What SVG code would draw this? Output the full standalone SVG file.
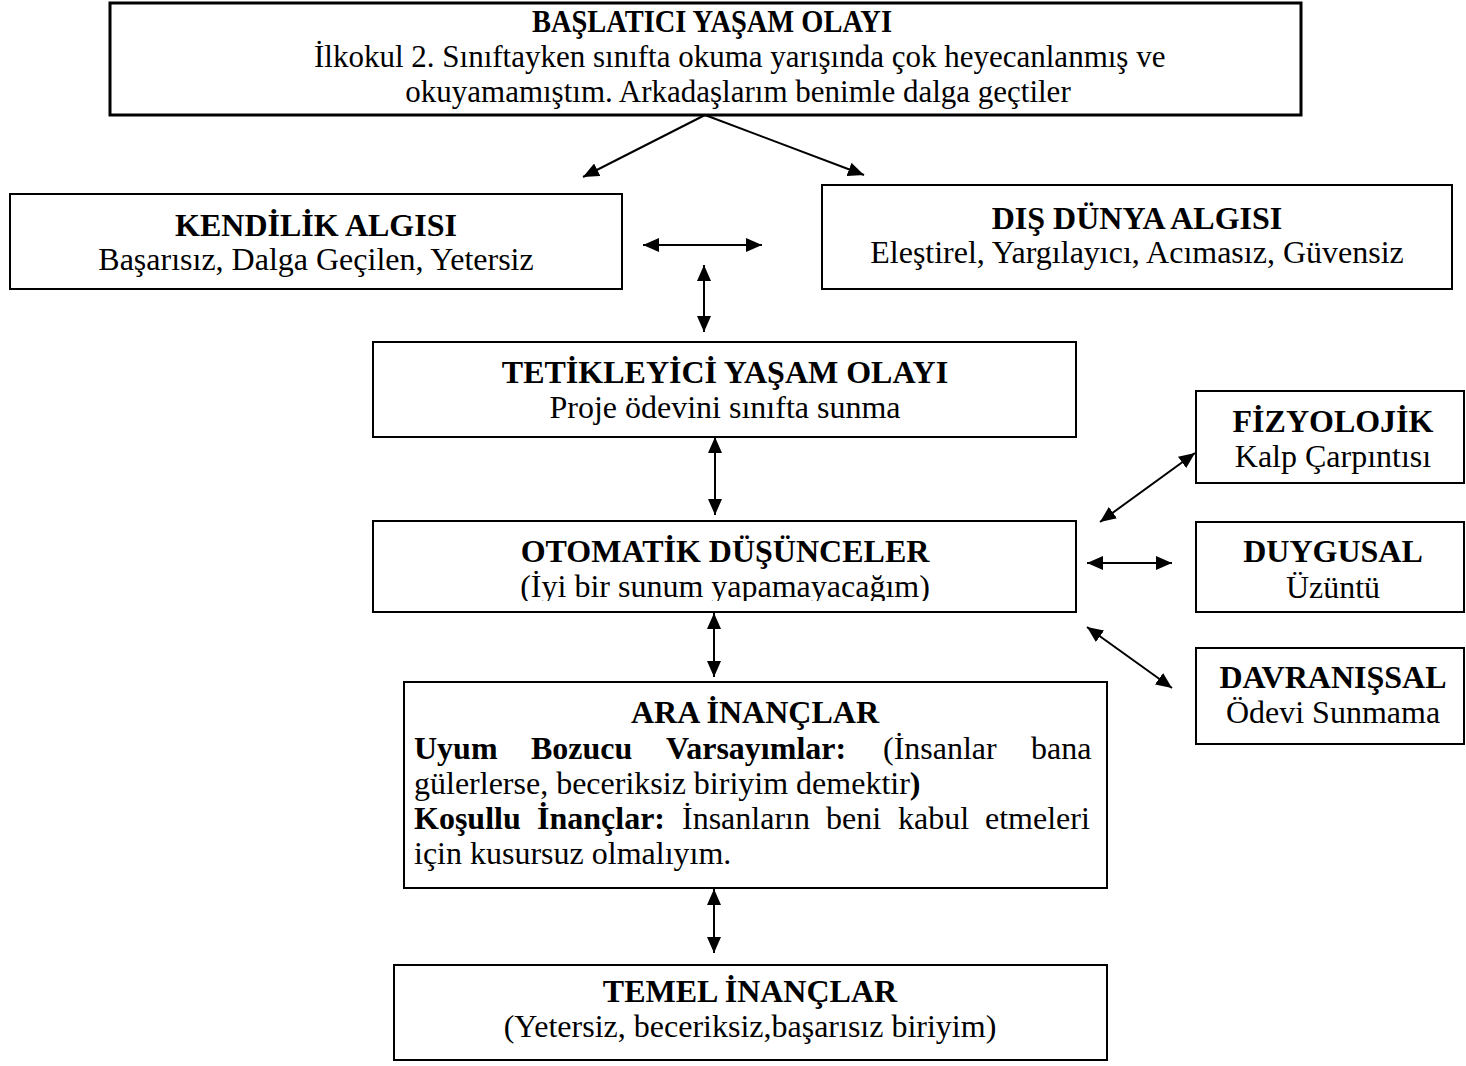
<svg xmlns="http://www.w3.org/2000/svg" width="1466" height="1066" viewBox="0 0 1466 1066">
  <defs>
    <style>
      .box { fill: #ffffff; stroke: #000000; stroke-width: 2; }
      .box-thick { fill: #ffffff; stroke: #000000; stroke-width: 3; }
      text { font-family: "Liberation Serif", "Times New Roman", serif; font-size: 32px; fill: #000000; }
      .c { text-anchor: middle; }
      .b { font-weight: bold; }
      .narrow { font-size: 31px; }
      .link { fill: none; stroke: #000000; stroke-width: 2; }
    </style>
    <marker id="head" viewBox="0 0 16 14" refX="16" refY="7" markerWidth="16" markerHeight="14" markerUnits="userSpaceOnUse" orient="auto-start-reverse">
      <path d="M0,0 L16,7 L0,14 Z" fill="#000000"/>
    </marker>
    <clipPath id="clip-otomatik">
      <rect x="373" y="521" width="703" height="80"/>
    </clipPath>
  </defs>

  <!-- connectors -->
  <g id="connectors">
    <line class="link" x1="705" y1="115" x2="583" y2="177" marker-end="url(#head)"/>
    <line class="link" x1="705" y1="115" x2="864" y2="175" marker-end="url(#head)"/>
    <line class="link" x1="643" y1="245" x2="762" y2="245" marker-start="url(#head)" marker-end="url(#head)"/>
    <line class="link" x1="704" y1="265" x2="704" y2="332" marker-start="url(#head)" marker-end="url(#head)"/>
    <line class="link" x1="715" y1="437" x2="715" y2="515" marker-start="url(#head)" marker-end="url(#head)"/>
    <line class="link" x1="1100" y1="522" x2="1195" y2="453" marker-start="url(#head)" marker-end="url(#head)"/>
    <line class="link" x1="1087" y1="563" x2="1172" y2="563" marker-start="url(#head)" marker-end="url(#head)"/>
    <line class="link" x1="1087" y1="627" x2="1172" y2="688" marker-start="url(#head)" marker-end="url(#head)"/>
    <line class="link" x1="714" y1="613" x2="714" y2="677" marker-start="url(#head)" marker-end="url(#head)"/>
    <line class="link" x1="714" y1="889" x2="714" y2="953" marker-start="url(#head)" marker-end="url(#head)"/>
  </g>

  <!-- initiating life event -->
  <g id="baslatici">
    <rect class="box-thick" x="110" y="3" width="1191" height="112"/>
    <text class="c b narrow" x="712" y="32" textLength="360" lengthAdjust="spacingAndGlyphs">BAŞLATICI YAŞAM OLAYI</text>
    <text class="narrow" x="314" y="67">İlkokul 2. Sınıftayken sınıfta okuma yarışında çok heyecanlanmış ve</text>
    <text class="c narrow" x="738" y="102">okuyamamıştım. Arkadaşlarım benimle dalga geçtiler</text>
  </g>

  <!-- self perception -->
  <g id="kendilik">
    <rect class="box" x="10" y="194" width="612" height="95"/>
    <text class="c b" x="316" y="236">KENDİLİK ALGISI</text>
    <text class="c" x="316" y="270">Başarısız, Dalga Geçilen, Yetersiz</text>
  </g>

  <!-- outer world perception -->
  <g id="dis-dunya">
    <rect class="box" x="822" y="185" width="630" height="104"/>
    <text class="c b" x="1137" y="229">DIŞ DÜNYA ALGISI</text>
    <text class="c" x="1137" y="263">Eleştirel, Yargılayıcı, Acımasız, Güvensiz</text>
  </g>

  <!-- triggering life event -->
  <g id="tetikleyici">
    <rect class="box" x="373" y="342" width="703" height="95"/>
    <text class="c b" x="725" y="383">TETİKLEYİCİ YAŞAM OLAYI</text>
    <text class="c" x="725" y="418">Proje ödevini sınıfta sunma</text>
  </g>

  <!-- automatic thoughts -->
  <g id="otomatik">
    <rect class="box" x="373" y="521" width="703" height="91"/>
    <text class="c b" x="725" y="562">OTOMATİK DÜŞÜNCELER</text>
    <text class="c" x="725" y="597" clip-path="url(#clip-otomatik)">(İyi bir sunum yapamayacağım)</text>
  </g>

  <!-- reactions -->
  <g id="fizyolojik">
    <rect class="box" x="1196" y="391" width="268" height="92"/>
    <text class="c b" x="1333" y="432">FİZYOLOJİK</text>
    <text class="c" x="1333" y="467">Kalp Çarpıntısı</text>
  </g>

  <g id="duygusal">
    <rect class="box" x="1196" y="522" width="268" height="90"/>
    <text class="c b" x="1333" y="562">DUYGUSAL</text>
    <text class="c" x="1333" y="598">Üzüntü</text>
  </g>

  <g id="davranissal">
    <rect class="box" x="1196" y="648" width="268" height="96"/>
    <text class="c b" x="1333" y="688">DAVRANIŞSAL</text>
    <text class="c" x="1333" y="723">Ödevi Sunmama</text>
  </g>

  <!-- intermediate beliefs, justified paragraph -->
  <g id="ara-inanclar">
    <rect class="box" x="404" y="682" width="703" height="206"/>
    <text class="c b" x="755" y="723">ARA İNANÇLAR</text>
    <text class="b" x="414" y="759">Uyum</text>
    <text class="b" x="531" y="759">Bozucu</text>
    <text class="b" x="666" y="759">Varsayımlar:</text>
    <text x="883" y="759">(İnsanlar</text>
    <text x="1031" y="759">bana</text>
    <text x="414" y="794">gülerlerse, beceriksiz biriyim demektir<tspan class="b">)</tspan></text>
    <text class="b" x="414" y="829">Koşullu</text>
    <text class="b" x="537" y="829">İnançlar:</text>
    <text x="682" y="829">İnsanların</text>
    <text x="826" y="829">beni</text>
    <text x="898" y="829">kabul</text>
    <text x="985" y="829">etmeleri</text>
    <text x="414" y="864">için kusursuz olmalıyım.</text>
  </g>

  <!-- core beliefs -->
  <g id="temel-inanclar">
    <rect class="box" x="394" y="965" width="713" height="95"/>
    <text class="c b" x="750" y="1002">TEMEL İNANÇLAR</text>
    <text class="c" x="750" y="1037">(Yetersiz, beceriksiz,başarısız biriyim)</text>
  </g>
</svg>
